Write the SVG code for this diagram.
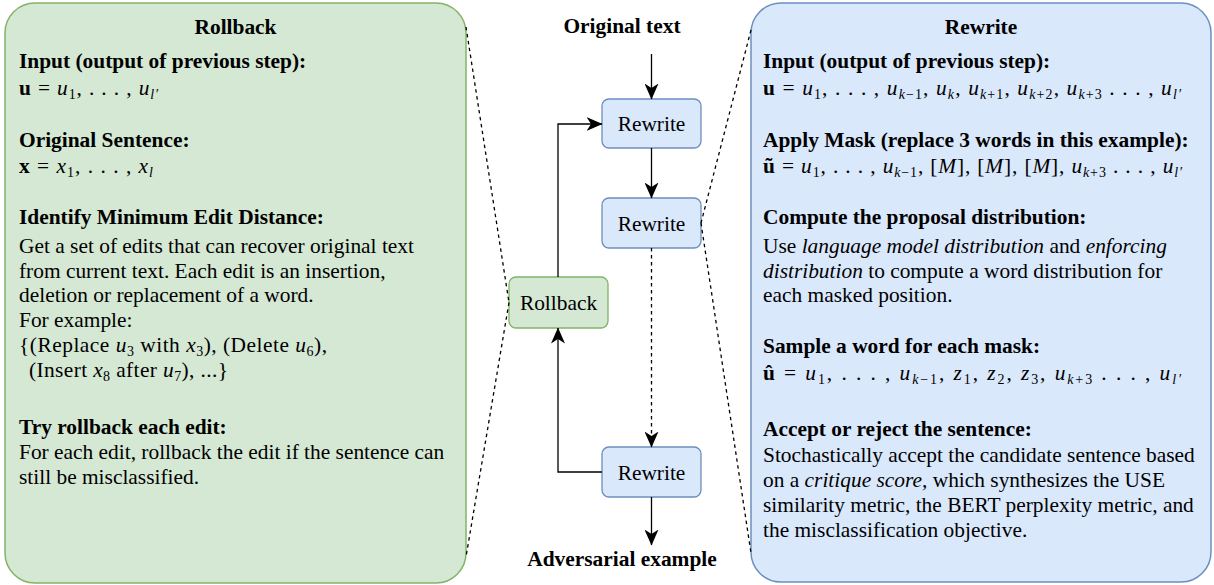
<svg xmlns="http://www.w3.org/2000/svg" width="1214" height="585" viewBox="0 0 1214 585">
  <style>
    .t { font-family: "Liberation Serif", "Times New Roman", serif; font-size: 21.4px; fill: #000; }
    .h { font-weight: bold; }
    .i { font-style: italic; }
    .s { font-size: 14px; }
    .mid { text-anchor: middle; }
    .green { fill: #d5e8d4; stroke: #82b366; stroke-width: 1.5; }
    .blue { fill: #dae8fc; stroke: #6c8ebf; stroke-width: 1.5; }
    .edge { fill: none; stroke: #000; stroke-width: 1.3; }
    .dash { stroke-dasharray: 3.5 3.5; }
    .arrow { marker-end: url(#head); }
  </style>
  <defs>
    <marker id="head" markerUnits="userSpaceOnUse" viewBox="0 0 16 14" markerWidth="16" markerHeight="14" refX="15.5" refY="7" orient="auto">
      <path d="M0,0 L16,7 L0,14 L4.5,7 Z" fill="#000"/>
    </marker>
  </defs>

  <!-- Rollback detail panel -->
  <g id="rollback-panel">
    <rect class="green" x="5" y="3" width="461" height="580" rx="30" ry="30"/>
    <text class="t h mid" x="235.5" y="34">Rollback</text>
    <text class="t h" x="19" y="68">Input (output of previous step):</text>
    <text class="t" x="19" y="95" textLength="139" lengthAdjust="spacing"><tspan class="h">u</tspan> = <tspan class="i">u</tspan><tspan class="s" dy="4">1</tspan><tspan dy="-4">, . . . , </tspan><tspan class="i">u</tspan><tspan class="s i" dy="4">l′</tspan></text>
    <text class="t h" x="19" y="147">Original Sentence:</text>
    <text class="t" x="19" y="173" textLength="134" lengthAdjust="spacing"><tspan class="h">x</tspan> = <tspan class="i">x</tspan><tspan class="s" dy="4">1</tspan><tspan dy="-4">, . . . , </tspan><tspan class="i">x</tspan><tspan class="s i" dy="4">l</tspan></text>
    <text class="t h" x="19" y="224">Identify Minimum Edit Distance:</text>
    <text class="t" x="19" y="253">Get a set of edits that can recover original text</text>
    <text class="t" x="19" y="277.5">from current text. Each edit is an insertion,</text>
    <text class="t" x="19" y="302">deletion or replacement of a word.</text>
    <text class="t" x="19" y="327">For example:</text>
    <text class="t" x="19" y="352" textLength="308" lengthAdjust="spacing">{(Replace <tspan class="i">u</tspan><tspan class="s" dy="4">3</tspan><tspan dy="-4"> with </tspan><tspan class="i">x</tspan><tspan class="s" dy="4">3</tspan><tspan dy="-4">), (Delete </tspan><tspan class="i">u</tspan><tspan class="s" dy="4">6</tspan><tspan dy="-4">),</tspan></text>
    <text class="t" x="29" y="377" textLength="199" lengthAdjust="spacing">(Insert <tspan class="i">x</tspan><tspan class="s" dy="4">8</tspan><tspan dy="-4"> after </tspan><tspan class="i">u</tspan><tspan class="s" dy="4">7</tspan><tspan dy="-4">), ...}</tspan></text>
    <text class="t h" x="19" y="434">Try rollback each edit:</text>
    <text class="t" x="19" y="459">For each edit, rollback the edit if the sentence can</text>
    <text class="t" x="19" y="484">still be misclassified.</text>
  </g>

  <!-- Rewrite detail panel -->
  <g id="rewrite-panel">
    <rect class="blue" x="751" y="3" width="460" height="579" rx="30" ry="30"/>
    <text class="t h mid" x="981" y="34">Rewrite</text>
    <text class="t h" x="763" y="68">Input (output of previous step):</text>
    <text class="t" x="763" y="95" textLength="418" lengthAdjust="spacing"><tspan class="h">u</tspan> = <tspan class="i">u</tspan><tspan class="s" dy="4">1</tspan><tspan dy="-4">, . . . , </tspan><tspan class="i">u</tspan><tspan class="s" dy="4"><tspan class="i">k</tspan>−1</tspan><tspan dy="-4">, </tspan><tspan class="i">u</tspan><tspan class="s i" dy="4">k</tspan><tspan dy="-4">, </tspan><tspan class="i">u</tspan><tspan class="s" dy="4"><tspan class="i">k</tspan>+1</tspan><tspan dy="-4">, </tspan><tspan class="i">u</tspan><tspan class="s" dy="4"><tspan class="i">k</tspan>+2</tspan><tspan dy="-4">, </tspan><tspan class="i">u</tspan><tspan class="s" dy="4"><tspan class="i">k</tspan>+3</tspan><tspan dy="-4"> . . . , </tspan><tspan class="i">u</tspan><tspan class="s i" dy="4">l′</tspan></text>
    <text class="t h" x="763" y="147">Apply Mask (replace 3 words in this example):</text>
    <text class="t" x="763" y="173" textLength="419" lengthAdjust="spacing"><tspan class="h">ũ</tspan> = <tspan class="i">u</tspan><tspan class="s" dy="4">1</tspan><tspan dy="-4">, . . . , </tspan><tspan class="i">u</tspan><tspan class="s" dy="4"><tspan class="i">k</tspan>−1</tspan><tspan dy="-4">, [</tspan><tspan class="i">M</tspan>], [<tspan class="i">M</tspan>], [<tspan class="i">M</tspan>], <tspan class="i">u</tspan><tspan class="s" dy="4"><tspan class="i">k</tspan>+3</tspan><tspan dy="-4"> . . . , </tspan><tspan class="i">u</tspan><tspan class="s i" dy="4">l′</tspan></text>
    <text class="t h" x="763" y="224">Compute the proposal distribution:</text>
    <text class="t" x="763" y="253">Use <tspan class="i">language model distribution</tspan> and <tspan class="i">enforcing</tspan></text>
    <text class="t" x="763" y="277.5"><tspan class="i">distribution</tspan> to compute a word distribution for</text>
    <text class="t" x="763" y="302">each masked position.</text>
    <text class="t h" x="763" y="353">Sample a word for each mask:</text>
    <text class="t" x="763" y="380" textLength="418" lengthAdjust="spacing"><tspan class="h">û</tspan> = <tspan class="i">u</tspan><tspan class="s" dy="4">1</tspan><tspan dy="-4">, . . . , </tspan><tspan class="i">u</tspan><tspan class="s" dy="4"><tspan class="i">k</tspan>−1</tspan><tspan dy="-4">, </tspan><tspan class="i">z</tspan><tspan class="s" dy="4">1</tspan><tspan dy="-4">, </tspan><tspan class="i">z</tspan><tspan class="s" dy="4">2</tspan><tspan dy="-4">, </tspan><tspan class="i">z</tspan><tspan class="s" dy="4">3</tspan><tspan dy="-4">, </tspan><tspan class="i">u</tspan><tspan class="s" dy="4"><tspan class="i">k</tspan>+3</tspan><tspan dy="-4"> . . . , </tspan><tspan class="i">u</tspan><tspan class="s i" dy="4">l′</tspan></text>
    <text class="t h" x="763" y="436">Accept or reject the sentence:</text>
    <text class="t" x="763" y="462">Stochastically accept the candidate sentence based</text>
    <text class="t" x="763" y="487">on a <tspan class="i">critique score,</tspan> which synthesizes the USE</text>
    <text class="t" x="763" y="512">similarity metric, the BERT perplexity metric, and</text>
    <text class="t" x="763" y="537">the misclassification objective.</text>
  </g>

  <!-- Flow labels -->
  <g id="original-text">
    <text class="t h mid" x="622" y="33">Original text</text>
  </g>
  <g id="adversarial-example">
    <text class="t h mid" x="622" y="566">Adversarial example</text>
  </g>

  <!-- Flow nodes -->
  <g id="rewrite-1">
    <rect class="blue" x="602" y="99" width="99" height="49" rx="7" ry="7" style="stroke-width:1.3"/>
    <text class="t mid" x="651.5" y="131">Rewrite</text>
  </g>
  <g id="rewrite-2">
    <rect class="blue" x="602" y="198" width="99" height="50" rx="7" ry="7" style="stroke-width:1.3"/>
    <text class="t mid" x="651.5" y="230.5">Rewrite</text>
  </g>
  <g id="rewrite-3">
    <rect class="blue" x="602" y="447" width="99" height="50" rx="7" ry="7" style="stroke-width:1.3"/>
    <text class="t mid" x="651.5" y="479.5">Rewrite</text>
  </g>
  <g id="rollback-node">
    <rect class="green" x="509" y="277" width="99" height="51" rx="7" ry="7" style="stroke-width:1.3"/>
    <text class="t mid" x="558.5" y="310">Rollback</text>
  </g>

  <!-- Connectors -->
  <g id="connectors">
    <path class="edge arrow" d="M651.5,54 L651.5,99"/>
    <path class="edge arrow" d="M651.5,148 L651.5,198"/>
    <path class="edge dash arrow" d="M651.5,248 L651.5,447"/>
    <path class="edge arrow" d="M651.5,497 L651.5,545"/>
    <path class="edge arrow" d="M602,472 L558,472 L558,328"/>
    <path class="edge arrow" d="M558,277 L558,124 L602,124"/>
    <!-- zoom-out guides from the detail panels to their nodes -->
    <path class="edge dash" d="M466,27 L509,302.5"/>
    <path class="edge dash" d="M509,302.5 L466,557"/>
    <path class="edge dash" d="M751,30 L701,223"/>
    <path class="edge dash" d="M701,223 L751,553"/>
  </g>
</svg>
